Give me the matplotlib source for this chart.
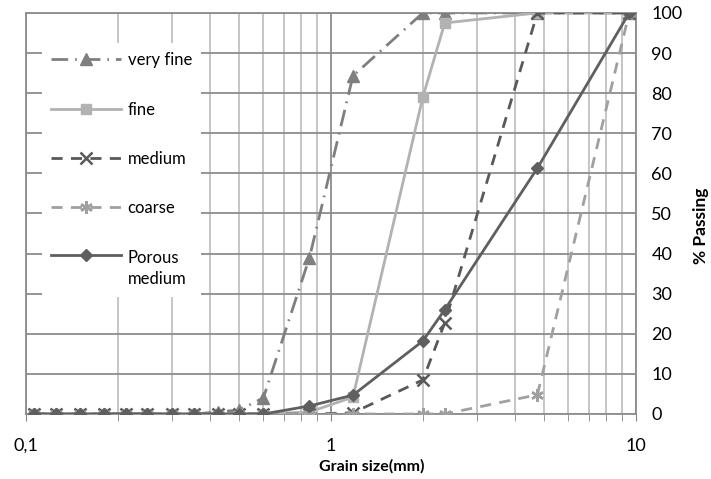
import numpy as np
import matplotlib.pyplot as plt
from matplotlib.ticker import FixedLocator, NullFormatter

plt.rcParams['font.family'] = ['Lato', 'DejaVu Sans']

# sieve sizes (mm) and % passing for each sample
sizes = [0.106, 0.125, 0.15, 0.18, 0.212, 0.25, 0.3, 0.355, 0.425, 0.5, 0.6,
         0.85, 1.18, 2.0, 2.36, 4.75, 9.5]
very_fine = [0, 0, 0, 0, 0, 0, 0, 0, 0.5, 1, 4, 39, 84.3, 100, 100, 100, 100]
fine = [0, 0, 0, 0, 0, 0, 0, 0, 0, 0, 0, 0.5, 4.2, 79, 97.5, 100, 100]
medium = [0, 0, 0, 0, 0, 0, 0, 0, 0, 0, 0, 0, 0.3, 8.5, 22.7, 100, 100]
coarse = [0, 0, 0, 0, 0, 0, 0, 0, 0, 0, 0, 0, 0, 0, 0, 4.8, 100]
porous = [0, 0, 0, 0, 0, 0, 0, 0, 0, 0, 0, 2, 4.7, 18.2, 26, 61.3, 100]

fig = plt.figure(figsize=(7.11, 4.79), dpi=100)
ax = fig.add_axes([0.0366, 0.1357, 0.8579, 0.8373])

lw = 2.0
ax.plot(sizes, very_fine, color='#7f7f7f', lw=lw, dashes=(6, 2.5, 0.6, 2.5),
        marker='^', ms=8, label='very fine', zorder=3)
ax.plot(sizes, fine, color='#b2b2b2', lw=lw, marker='s', ms=7.5,
        label='fine', zorder=3)
ax.plot(sizes, medium, color='#595959', lw=lw, dashes=(4, 3), marker='x',
        ms=8, mew=1.8, label='medium', zorder=3)
ax.plot(sizes, coarse, color='#a0a0a0', lw=lw, dashes=(4, 3), marker=(6, 2, 0),
        ms=9, mew=1.8, label='coarse', zorder=3)
ax.plot(sizes, porous, color='#5f5f5f', lw=lw, marker='D', ms=6.5,
        label='Porous\nmedium', zorder=4)

ax.set_xscale('log')
ax.set_xlim(0.1, 10)
ax.set_ylim(0, 100)

ax.xaxis.set_major_locator(FixedLocator([0.1, 1, 10]))
ax.set_xticklabels(['0,1', '1', '10'], fontsize=13)
minor = [m * d for d in (0.1, 1) for m in range(2, 10)]
ax.xaxis.set_minor_locator(FixedLocator(minor))
ax.xaxis.set_minor_formatter(NullFormatter())
ax.tick_params(axis='x', which='both', direction='out', length=5,
               color='#868686', pad=12)

ax.yaxis.tick_right()
ax.set_yticks(np.arange(0, 101, 10))
ax.tick_params(axis='y', length=0, labelsize=13, pad=11)
fig.text(701 / 711, 1 - 226 / 479, '% Passing', rotation=90, ha='center',
         va='center', fontweight='bold', fontsize=12.5)
ax.set_xlabel('Grain size(mm)', fontweight='bold', fontsize=11.5)
ax.xaxis.set_label_coords(0.566, -0.113)

ax.grid(axis='y', which='major', color='#8c8c8c', lw=1.3, zorder=0)
ax.grid(axis='x', which='major', color='#8c8c8c', lw=1.3, zorder=0)
ax.grid(axis='x', which='minor', color='#c0c0c0', lw=1.3, zorder=0)
ax.set_axisbelow(True)
for s in ax.spines.values():
    s.set_color('#8c8c8c')
    s.set_linewidth(1.3)

leg = ax.legend(loc='upper left', bbox_to_anchor=(0.026, 0.925),
                borderaxespad=0, fontsize=12, handlelength=4.2,
                labelspacing=2.0, frameon=True, fancybox=False,
                borderpad=0.55, handletextpad=0.4)
leg.get_texts()[-1].set_linespacing(1.45)
# put the two-line entry's handle next to its first line, like Excel does
leg._legend_handle_box.get_children()[0].get_children()[-1].align = 'top'
leg.get_frame().set_facecolor('white')
leg.get_frame().set_edgecolor('none')
leg.get_frame().set_alpha(1)

fig.savefig('out.png', dpi=100)
